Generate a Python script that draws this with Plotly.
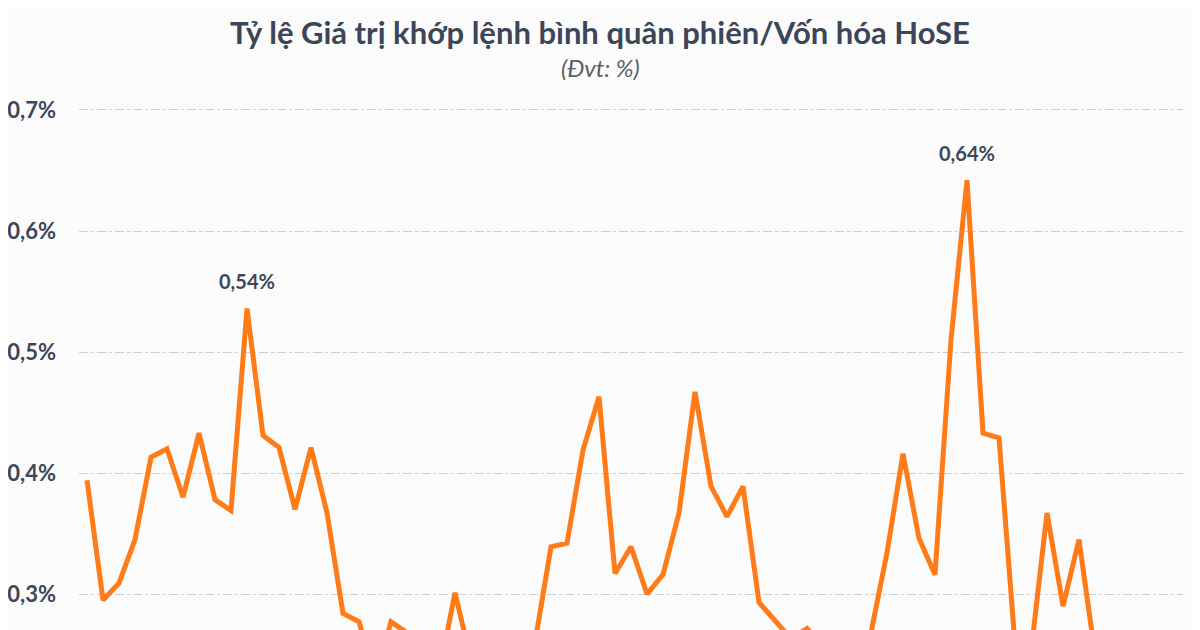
import plotly.graph_objects as go

# ---------- DATA ----------
# one value per session-period (%)
ratio = [0.394, 0.295, 0.309, 0.345, 0.413, 0.420, 0.380, 0.433, 0.378, 0.369,
         0.536, 0.431, 0.421, 0.370, 0.421, 0.367, 0.284, 0.277, 0.230, 0.277,
         0.268, 0.245, 0.234, 0.301, 0.245, 0.235, 0.240, 0.232, 0.260, 0.339,
         0.342, 0.419, 0.463, 0.317, 0.339, 0.300, 0.316, 0.367, 0.467, 0.389,
         0.364, 0.389, 0.293, 0.278, 0.263, 0.2715, 0.255, 0.245, 0.240, 0.268,
         0.334, 0.416, 0.346, 0.316, 0.510, 0.642, 0.433, 0.429, 0.258, 0.252,
         0.367, 0.290, 0.345, 0.250, 0.235, 0.240, 0.225, 0.230, 0.220]
periods = list(range(len(ratio)))

tick_vals = [0.3, 0.4, 0.5, 0.6, 0.7]
tick_text = ["0,3%", "0,4%", "0,5%", "0,6%", "0,7%"]

# highlighted peaks (index, label)
peak_idx = [10, 55]
peak_text = ["0,54%", "0,64%"]

TEXT = "#3b4658"
ORANGE = "#ff7b17"

# ---------- FIGURE ----------
fig = go.Figure()
fig.add_trace(go.Scatter(
    x=periods, y=ratio, mode="lines",
    line=dict(color=ORANGE, width=5),
    hoverinfo="skip", showlegend=False
))

for i, t in zip(peak_idx, peak_text):
    fig.add_annotation(
        x=periods[i], y=ratio[i], text=t, showarrow=False,
        yanchor="bottom", yshift=13,
        font=dict(family="Lato", size=20, color=TEXT, weight="bold")
    )

# subtitle, centred on the page rather than on the plot area
fig.add_annotation(
    xref="paper", yref="paper", x=0.472, y=1.062, yanchor="middle",
    text="<i>(Đvt: %)</i>", showarrow=False,
    font=dict(family="Lato", size=24, color="#5a5f66")
)

# page body adds an 8px offset, so the figure is sized to fit inside the window
fig.update_layout(
    width=1192, height=622,
    margin=dict(l=71, r=17, t=92, b=0),
    paper_bgcolor="#fbfbfb", plot_bgcolor="#fbfbfb",
    title=dict(
        text="<b>Tỷ lệ Giá trị khớp lệnh bình quân phiên/Vốn hóa HoSE</b>",
        x=592 / 1192, xanchor="center", y=1 - 25 / 622, yanchor="middle",
        font=dict(family="Lato", size=31, color=TEXT)
    ),
    xaxis=dict(range=[-0.5, len(ratio) - 0.5], visible=False),
    yaxis=dict(
        range=[0.27025, 0.70826], tickvals=tick_vals, ticktext=tick_text,
        showgrid=True, gridcolor="#cfcfcf", gridwidth=1, griddash="dashdot",
        zeroline=False, showline=False, ticks="",
        ticklabelstandoff=22, automargin=False,
        tickfont=dict(family="Lato", size=22, color=TEXT, weight="bold")
    ),
)

fig.write_html("out.html")
